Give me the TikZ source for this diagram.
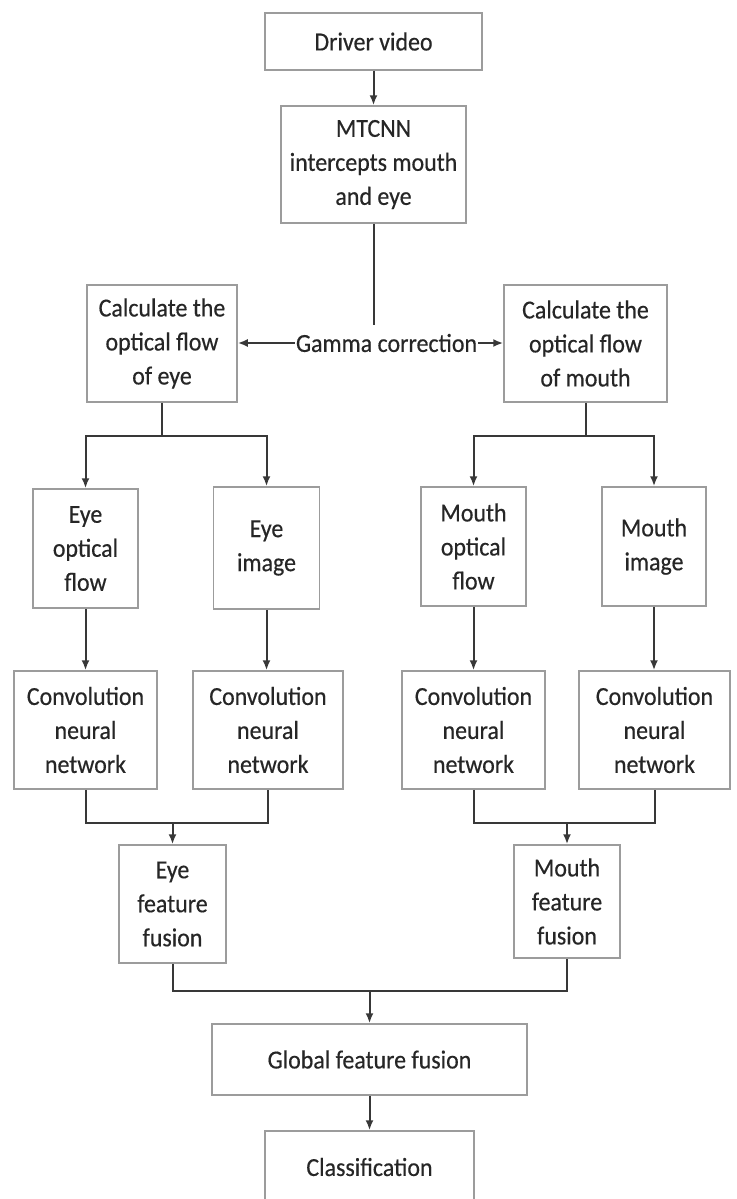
\documentclass[tikz,border=0pt]{standalone}
\usepackage{fontspec}
\setmainfont{Carlito}[FakeStretch=0.92,FakeBold=0.4]
\usetikzlibrary{arrows.meta}
\definecolor{boxc}{HTML}{9C9C9C}
\definecolor{linec}{HTML}{383838}
\definecolor{txtc}{HTML}{262626}
\begin{document}
\begin{tikzpicture}[x=1pt,y=-1pt,
  font=\fontsize{26}{34}\selectfont,
  box/.style 2 args={draw=boxc, line width=1.5pt, text=txtc, align=center,
    inner sep=0pt, minimum width=#1, minimum height=#2},
  ln/.style={draw=linec, line width=2pt},
  arr/.style={ln, -{Latex[length=10pt,width=8pt]}},
  lbl/.style={text=txtc, inner sep=1pt}]
\useasboundingbox[fill=white] (0,0) rectangle (736,1199);

\node[box={217pt}{57pt}] (drv) at (373.5,41.5) {Driver video};
\node[box={185pt}{117pt}] (mtc) at (373.5,164.5) {MTCNN\\intercepts mouth\\and eye};
\node[box={150pt}{117pt}] (calE) at (162,343.5) {Calculate the\\optical flow\\of eye};
\node[box={163pt}{117pt}] (calM) at (585.5,343.5) {Calculate the\\optical flow\\of mouth};
\node[lbl] (gam) at (386.5,343) {Gamma correction};

\node[box={105pt}{119pt}] (eof) at (85.5,548.5) {Eye\\optical\\flow};
\node[box={106pt}{122pt}] (eim) at (266.5,548) {Eye\\image};
\node[box={105pt}{119pt}] (mof) at (473.5,546.5) {Mouth\\optical\\flow};
\node[box={104pt}{119pt}] (mim) at (654,546.5) {Mouth\\image};

\node[box={143pt}{118pt}] (cn1) at (85.5,730) {Convolution\\neural\\network};
\node[box={150pt}{118pt}] (cn2) at (268,730) {Convolution\\neural\\network};
\node[box={143pt}{118pt}] (cn3) at (473.5,730) {Convolution\\neural\\network};
\node[box={151pt}{118pt}] (cn4) at (654.5,730) {Convolution\\neural\\network};

\node[box={107pt}{118pt}] (efu) at (172.5,904) {Eye\\feature\\fusion};
\node[box={106pt}{113pt}] (mfu) at (567,901.5) {Mouth\\feature\\fusion};

\node[box={315pt}{71pt}] (glo) at (369.5,1059.5) {Global feature fusion};
\node[box={209pt}{72pt}] (cls) at (369.5,1167) {Classification};

% connectors
\draw[arr] (drv) -- (mtc);
\coordinate (gtop) at (373.5,325);
\draw[ln] (mtc.south) -- (gtop);
\draw[arr] (gam.west) -- (gam.west -| calE.east);
\draw[arr] (gam.east) -- (gam.east -| calM.west);

\coordinate (sE) at (162,436);
\coordinate (sM) at (585.5,436);
\draw[ln] (calE.south) -- (sE);
\draw[arr] (sE) -| (eof);
\draw[arr] (sE) -| (eim);
\draw[ln] (calM.south) -- (sM);
\draw[arr] (sM) -| (mof);
\draw[arr] (sM) -| (mim);

\draw[arr] (eof.south) -- (eof.south |- cn1.north);
\draw[arr] (eim.south) -- (eim.south |- cn2.north);
\draw[arr] (mof.south) -- (mof.south |- cn3.north);
\draw[arr] (mim.south) -- (mim.south |- cn4.north);

\coordinate (jE) at (172.5,823);
\coordinate (jM) at (567,823);
\draw[ln] (cn1.south) |- (jE) -| (cn2.south);
\draw[arr] (jE) -- (efu);
\draw[ln] (cn3.south) |- (jM) -| (cn4.south);
\draw[arr] (jM) -- (mfu);

\coordinate (jG) at (369.5,991);
\draw[ln] (efu.south) |- (jG) -| (mfu.south);
\draw[arr] (jG) -- (glo);
\draw[arr] (glo) -- (cls);
\end{tikzpicture}
\end{document}
